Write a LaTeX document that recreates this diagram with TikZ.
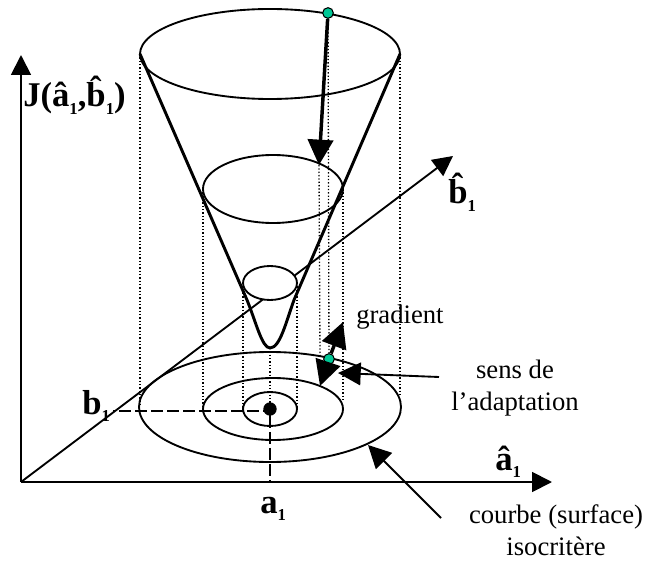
\documentclass[tikz,border=0pt]{standalone}
\usepackage{fontspec}
\setmainfont{Liberation Serif}
\usetikzlibrary{arrows.meta}
\definecolor{probegreen}{RGB}{0,200,150}
\newcommand{\lowone}{\raisebox{-5.5pt}{\fontsize{12.5pt}{13pt}\selectfont 1}}
\begin{document}
\begin{tikzpicture}[
x=0.75pt,
y=-0.75pt,
every node/.style={font=\fontsize{20pt}{24pt}\selectfont,inner sep=0pt},
axisline/.style={line width=1.4pt,-{Triangle[length=15pt,width=15pt]}},
pointer/.style={line width=1.4pt,-{Triangle[length=17pt,width=17pt]}},
descent/.style={line width=2.6pt,-{Triangle[length=19pt,width=19pt]}},
proj/.style={line width=1pt,dash pattern=on 1pt off 1.5pt},
guide/.style={line width=1.4pt,dash pattern=on 9pt off 3pt},
curve/.style={line width=1.4pt},
cone/.style={line width=2.2pt},
probe/.style={circle,draw=black,fill=probegreen,line width=0.8pt,minimum size=8pt},
dotnode/.style={circle,fill=black,minimum size=10pt},
lab/.style={anchor=base west,font=\fontsize{26pt}{30pt}\selectfont\bfseries}
]
\useasboundingbox (0,0) rectangle (646,563);

% axes
\coordinate (o) at (21,482);
\coordinate (jend) at (21,55);
\coordinate (aend) at (552,482);
\coordinate (bend) at (453,156);
\draw[axisline] (o) -- (jend);
\draw[axisline] (o) -- (aend);
\draw[axisline] (o) -- (bend);

% points on the level curves
\coordinate (t0) at (140,54);
\coordinate (t1) at (400,54);
\coordinate (m0) at (203,189);
\coordinate (m1) at (343,189);
\coordinate (m2) at (319,165);
\coordinate (s0) at (243,283);
\coordinate (s1) at (297,283);
\coordinate (v) at (270,348);
\coordinate (l0) at (140,405);
\coordinate (l1) at (400,395);
\coordinate (l2) at (320,356);
\coordinate (n0) at (203,409);
\coordinate (n1) at (343,402);
\coordinate (k0) at (243,409);
\coordinate (k1) at (297,409);
\coordinate (c0) at (270,409);

% vertical projections
\draw[proj] (t0) -- (l0);
\draw[proj] (t1) -- (l1);
\draw[proj] (m0) -- (n0);
\draw[proj] (m1) -- (n1);
\draw[proj] (m2) -- (l2);
\draw[proj] (s0) -- (k0);
\draw[proj] (s1) -- (k1);
\draw[proj] (v) -- (c0);

% upper ellipses
\draw[curve] (270,54) ellipse (130 and 45);
\draw[curve] (273,189) ellipse (70 and 34);
\draw[curve,fill=white] (270,283) ellipse (27 and 17);

% cone
\draw[cone] (t0) -- (247,300) .. controls (256,322) and (262,348) .. (v) .. controls (280,348) and (286,322) .. (294,300) -- (t1);

% lower ellipses
\draw[curve] (270,407) ellipse (131 and 55);
\draw[curve] (273,409) ellipse (70 and 31);
\draw[curve] (270,409) ellipse (27 and 17);

% optimum and its coordinates
\node[dotnode] (opt) at (c0) {};
\node[lab] (b1) at (82,414) {b\lowone};
\node[lab] (a1) at (260,513) {a\lowone};
\coordinate (bfoot) at (113,411);
\coordinate (afoot) at (270,482);
\draw[guide] (opt) -- (270,411) -- (bfoot);
\draw[guide] (opt) -- (afoot);

% descent
\node[probe] (p0) at (328,13) {};
\node[probe] (p1) at (329,359) {};
\draw[proj] (p0) -- (p1);
\draw[descent] (p0) -- (m2);
\coordinate (gtip) at (343,322);
\coordinate (stip) at (320,386);
\draw[descent] (p1) -- (gtip);
\draw[descent] (p1) -- (stip);

% texts
\node[lab] (jlab) at (23,107) {J(\^{a}\lowone,\^{b}\lowone)};
\node[lab] (blab) at (448,204) {\^{b}\lowone};
\node[lab] (alab) at (495,470) {\^{a}\lowone};
\node[anchor=base west] (grad) at (356,323) {gradient};
\node[anchor=base] (sens) at (515,378) {sens de};
\node[anchor=base] (adapt) at (515,410) {l’adaptation};
\node[anchor=base] (courbe) at (556,523) {courbe (surface)};
\node[anchor=base] (iso) at (556,555) {isocritère};

% pointers
\coordinate (sfrom) at (439,377);
\coordinate (stop) at (338,373);
\coordinate (cfrom) at (441,518);
\coordinate (ctop) at (368,445);
\draw[pointer] (sfrom) -- (stop);
\draw[pointer] (cfrom) -- (ctop);

\end{tikzpicture}
\end{document}
